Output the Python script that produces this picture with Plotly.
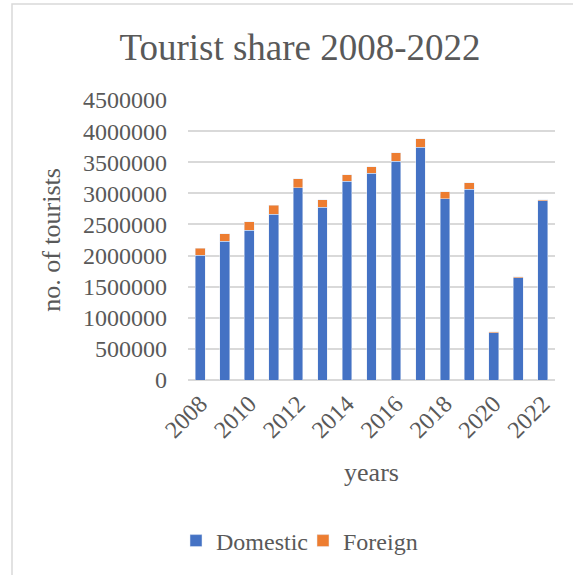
import plotly.graph_objects as go

# Tourist arrivals per year, split by origin
years = [2008, 2009, 2010, 2011, 2012, 2013, 2014, 2015,
         2016, 2017, 2018, 2019, 2020, 2021, 2022]
domestic = [2002000, 2228000, 2405000, 2663000, 3088000, 2775000, 3194000, 3323000,
            3516000, 3737000, 2916000, 3065000, 757000, 1643000, 2883000]
foreign = [119000, 124000, 135000, 145000, 145000, 120000, 108000, 108000,
           136000, 140000, 107000, 108000, 21000, 16000, 12000]

year_ticks = [2008, 2010, 2012, 2014, 2016, 2018, 2020, 2022]
year_tick_text = [str(y) for y in year_ticks]
y_ticks = [0, 500000, 1000000, 1500000, 2000000, 2500000, 3000000, 3500000, 4000000, 4500000]

W, H = 573, 575
ML, MR, MT, MB = 188, 18, 100, 195
PW, PH = W - ML - MR, H - MT - MB

FONT = "Liberation Serif, Times New Roman, serif"
TXT = "#595959"
GRID = "#D9D9D9"


def px_x(p):
    return (p - ML) / PW


def px_y(p):
    return (H - MB - p) / PH


def f(size):
    return dict(family=FONT, size=size, color=TXT)


fig = go.Figure()
fig.add_trace(go.Bar(x=years, y=domestic, name="Domestic", marker_color="#4472C4"))
fig.add_trace(go.Bar(x=years, y=foreign, name="Foreign", marker_color="#ED7D31"))

fig.update_layout(
    width=W, height=H,
    margin=dict(l=ML, r=MR, t=MT, b=MB, autoexpand=False),
    paper_bgcolor="white", plot_bgcolor="white",
    barmode="stack", bargap=0.6,
    font=f(24),
    title=dict(text="Tourist share 2008-2022", x=px_x(300), xanchor="center",
               xref="paper", y=1 - 47 / H, yanchor="middle", font=f(37)),
    showlegend=True,
    legend=dict(orientation="h", x=px_x(176), xanchor="left",
                y=px_y(541), yanchor="middle", font=f(24),
                entrywidth=82, entrywidthmode="pixels",
                traceorder="normal", bgcolor="rgba(0,0,0,0)"),
    shapes=[dict(type="rect", xref="paper", yref="paper",
                 x0=px_x(12), x1=px_x(700), y0=px_y(700), y1=px_y(4),
                 line=dict(color=GRID, width=1.5), fillcolor="rgba(0,0,0,0)",
                 layer="below")],
)

fig.update_xaxes(
    range=[2007.5, 2022.5], tickvals=year_ticks, ticktext=year_tick_text,
    tickangle=-45, showgrid=False, showline=False, zeroline=False,
    ticklabelstandoff=4,
    tickfont=f(24),
    title=dict(text="years", font=f(26), standoff=20),
)
fig.update_yaxes(
    range=[0, 4500000], tickvals=y_ticks, tickformat="d",
    showgrid=True, gridcolor=GRID, gridwidth=1.5,
    zeroline=True, zerolinecolor=GRID, zerolinewidth=1.5,
    ticklabelstandoff=20,
    tickfont=f(24),
    title=dict(text="no. of tourists", font=f(26), standoff=14),
)

fig.write_html("out.html")
